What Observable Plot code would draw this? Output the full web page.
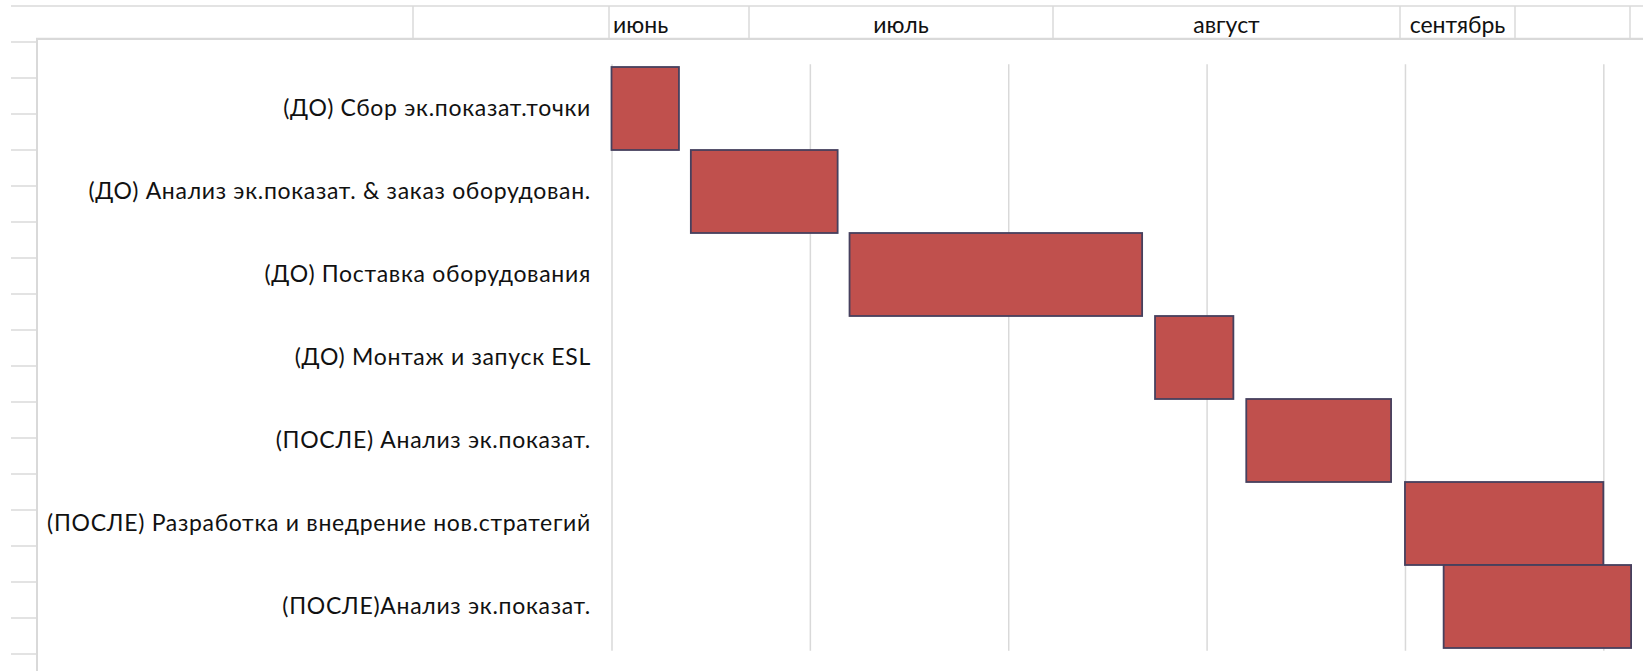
<!DOCTYPE html>
<html>
<head>
<meta charset="utf-8">
<script src="https://cdn.jsdelivr.net/npm/d3@7"></script>
<script src="https://cdn.jsdelivr.net/npm/@observablehq/plot@0.6"></script>
<style>
  html, body { margin: 0; padding: 0; background: #fff; overflow: hidden; }
  body { width: 1643px; height: 671px; position: relative; font-family: Lato, "Open Sans", "Noto Sans", sans-serif; }
  #sheet { position: absolute; left: 0; top: 0; }
  #chartbox { position: absolute; left: 36px; top: 38px; width: 1607px; height: 633px;
              background: #fff; border-left: 2px solid #d9d9d9; border-top: 2px solid #d9d9d9; box-sizing: border-box; }
  #chart { position: absolute; left: 36px; top: 38px; }
  #chart svg [aria-label="y-axis tick label"] text { letter-spacing: 0.7px; }
</style>
</head>
<body>
<div id="sheet"></div>
<div id="chartbox"></div>
<div id="chart"></div>
<script>
// ---- data ----
const tasks = [
  "(ДО) Сбор эк.показат.точки",
  "(ДО) Анализ эк.показат. & заказ оборудован.",
  "(ДО) Поставка оборудования",
  "(ДО) Монтаж и запуск ESL",
  "(ПОСЛЕ) Анализ эк.показат.",
  "(ПОСЛЕ) Разработка и внедрение нов.стратегий",
  "(ПОСЛЕ)Анализ эк.показат."
];
const startDay = [0, 8, 24, 54.8, 64, 80, 83.9];
const endDay   = [6.8, 22.8, 53.5, 62.7, 78.6, 100, 102.8];
const months = ["июнь", "июль", "август", "сентябрь"];
const gridDays = [0, 20, 40, 60, 80, 100];

const data = tasks.map((t, i) => ({task: t, start: startDay[i], end: endDay[i]}));

// ---- spreadsheet background (cells behind the chart) ----
const W = 1643, H = 671;
const sheet = d3.select("#sheet").append("svg").attr("width", W).attr("height", H);
const lineColor = "#dadada";
sheet.append("line").attr("x1", 11).attr("x2", W).attr("y1", 6).attr("y2", 6)
  .attr("stroke", lineColor).attr("stroke-width", 1.5);
sheet.append("line").attr("x1", 36).attr("x2", W).attr("y1", 38.5).attr("y2", 38.5)
  .attr("stroke", lineColor).attr("stroke-width", 1.5);
const cellEdges = [413, 609, 749, 1053, 1400, 1515, 1630];
cellEdges.forEach(x => sheet.append("line").attr("x1", x).attr("x2", x).attr("y1", 6).attr("y2", 38)
  .attr("stroke", lineColor).attr("stroke-width", 1.5));
for (let y = 42; y < H; y += 36) {
  sheet.append("line").attr("x1", 11).attr("x2", 36).attr("y1", y).attr("y2", y)
    .attr("stroke", lineColor).attr("stroke-width", 1.5);
}
const monthCells = [[613, null], [749, 1053], [1053, 1400], [1400, 1515]];
months.forEach((m, i) => {
  const [a, b] = monthCells[i];
  sheet.append("text")
    .attr("x", b == null ? a : (a + b) / 2)
    .attr("y", 33)
    .attr("text-anchor", b == null ? "start" : "middle")
    .attr("font-size", 23)
    .attr("fill", "#111")
    .text(m);
});

// ---- the Gantt chart ----
const chart = Plot.plot({
  width: 1607,
  height: 633,
  marginLeft: 575.5,
  marginRight: 0,
  marginTop: 26.3,
  marginBottom: 20.3,
  style: {background: "transparent", fontFamily: 'Lato, "Open Sans", "Noto Sans", sans-serif'},
  x: {domain: [0, 104], axis: null},
  y: {domain: tasks, padding: 0, label: null},
  marks: [
    Plot.gridX(gridDays, {stroke: "#d9d9d9", strokeOpacity: 1, strokeWidth: 1.5}),
    Plot.barX(data, {
      y: "task", x1: "start", x2: "end",
      fill: "#C0504D", stroke: "#46405E", strokeWidth: 1.8
    }),
    Plot.axisY({tickSize: 0, tickPadding: 21, fontSize: 23, fill: "#111", label: null})
  ]
});
document.getElementById("chart").appendChild(chart);
</script>
</body>
</html>
